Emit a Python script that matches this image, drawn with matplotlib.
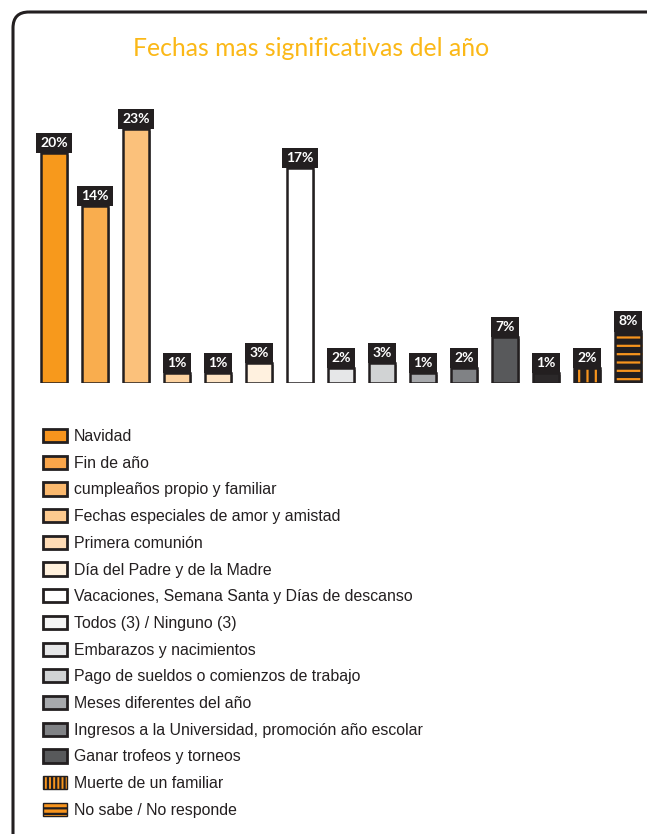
import numpy as np
import matplotlib
matplotlib.use("Agg")
import matplotlib.pyplot as plt
import matplotlib.patheffects as pe
from matplotlib.patches import Patch, FancyBboxPatch

plt.rcParams['hatch.linewidth'] = 1.6

# datos
categorias = ["Navidad", "Fin de año", "cumpleaños propio y familiar",
              "Fechas especiales de amor y amistad", "Primera comunión",
              "Día del Padre y de la Madre",
              "Vacaciones, Semana Santa y Días de descanso",
              "Todos (3) / Ninguno (3)", "Embarazos y nacimientos",
              "Pago de sueldos o comienzos de trabajo",
              "Meses diferentes del año",
              "Ingresos a la Universidad, promoción año escolar",
              "Ganar trofeos y torneos", "Muerte de un familiar",
              "No sabe / No responde"]
etiquetas = ["20%", "14%", "23%", "1%", "1%", "3%", "17%", "2%", "3%", "1%",
             "2%", "7%", "1%", "2%", "8%"]
# alturas (no son proporcionales a las etiquetas)
alturas = [20.0, 15.4, 22.1, 0.87, 0.87, 1.74, 18.7, 1.3, 1.74, 0.87,
           1.3, 4.0, 0.87, 1.3, 4.5]

colores_barra = ["#f7991c", "#f9ad4e", "#fbc17b", "#fdd29f", "#fee4c4",
                 "#fff1df", "#ffffff", "#e6e7e8", "#d1d3d4", "#a7a9ac",
                 "#808285", "#58595b", "#2b2829", "#231f20", "#231f20"]
hatch_barra = [None] * 13 + ["||", "--"]

colores_ley = ["#f7941d", "#f9a54a", "#fbb96e", "#fdca8f", "#fedbb5",
               "#fff0dc", "#ffffff", "#f4f4f4", "#e6e7e8", "#d1d3d4",
               "#a7a9ac", "#808285", "#58595b", "#f7941d", "#f7941d"]
hatch_ley = [None] * 13 + ["||||", "---"]

OSCURO = "#231f20"
NARANJA = "#f7941d"

W, H = 647, 834
fig = plt.figure(figsize=(W / 100, H / 100), dpi=100)

# marco redondeado
bg = fig.add_axes([0, 0, 1, 1])
bg.set_xlim(0, W)
bg.set_ylim(H, 0)
bg.axis('off')
bg.add_patch(FancyBboxPatch((13, 12), W + 20, H + 20,
                            boxstyle="round,pad=0,rounding_size=16",
                            fc="none", ec=OSCURO, lw=2.2))

fig.text(311 / W, 1 - 49 / H, "Fechas mas significativas del año",
         color="#fbb817", fontsize=17.8, family="Lato",
         ha="center", va="center")

# barras
x = np.arange(len(alturas))
ax = fig.add_axes([29.4 / W, 1 - 383 / H, 615 / W, 283 / H])
ax.set_xlim(-0.6, 14.4)
ax.set_ylim(0, 283 / 11.5)
ax.axis('off')

sombra = [pe.SimplePatchShadow(offset=(1.6, -1.2), shadow_rgbFace="#9a9a9a", alpha=0.9), pe.Normal()]
capa = ax.bar(x, alturas, width=0.61, color=colores_barra, linewidth=0,
              edgecolor=[NARANJA if h else OSCURO for h in hatch_barra], zorder=2)
for b, h in zip(capa, hatch_barra):
    b.set_path_effects(sombra)
    if h:
        b.set_hatch(h)
ax.bar(x, alturas, width=0.61, fill=False, edgecolor=OSCURO, linewidth=1.8, zorder=3)

for xi, h, lab in zip(x, alturas, etiquetas):
    ax.annotate(lab, (xi, h), xytext=(0, 2.8), textcoords="offset points",
                ha="center", va="bottom", color="white", fontsize=10,
                fontweight="bold", family="Lato", zorder=5,
                bbox=dict(boxstyle="square,pad=0.3", fc=OSCURO, ec="none"))

# leyenda
handles = []
for c, h in zip(colores_ley, hatch_ley):
    lw = 1.0 if h else 2.0
    p = Patch(facecolor=c, edgecolor=OSCURO, linewidth=lw, hatch=h)
    handles.append(p)
fig.legend(handles, categorias, loc="upper left",
           bbox_to_anchor=(43 / W, 1 - 429 / H), frameon=False,
           prop={"family": ["Liberation Sans", "DejaVu Sans"], "size": 11.45},
           labelcolor=OSCURO, handlelength=1.5, handleheight=0.9,
           handletextpad=0.45, labelspacing=0.73, borderpad=0,
           borderaxespad=0)

fig.savefig("out.png", dpi=100)
